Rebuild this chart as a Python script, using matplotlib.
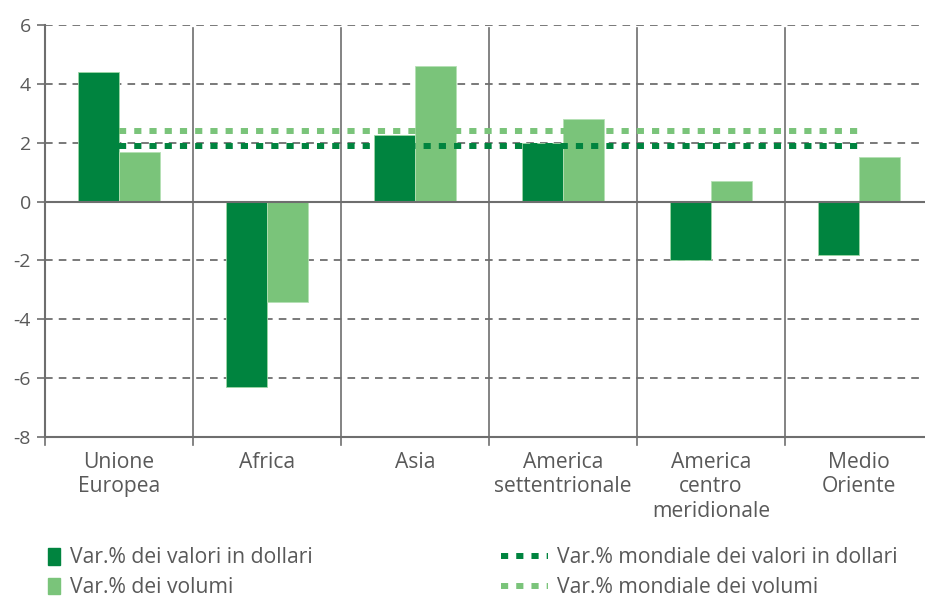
import numpy as np
import matplotlib.pyplot as plt
from matplotlib.patches import Patch
from matplotlib.lines import Line2D

plt.rcParams['font.family'] = ['Open Sans', 'DejaVu Sans']

categorie = ['Unione\nEuropea', 'Africa', 'Asia', 'America\nsettentrionale',
             'America\ncentro\nmeridionale', 'Medio\nOriente']
valori_dollari = [4.4, -6.3, 2.25, 2.0, -2.0, -1.8]
volumi = [1.7, -3.4, 4.6, 2.8, 0.7, 1.5]
mondiale_dollari = 1.9
mondiale_volumi = 2.4

verde_scuro = '#00843F'
verde_chiaro = '#7AC47A'
grigio = '#595959'
asse = '#6E6E6E'

fig = plt.figure(figsize=(9.25, 6), dpi=100)
ax = fig.add_axes([45 / 925, 1 - 437 / 600, 888 / 925, 412 / 600])

x = np.arange(len(categorie))
w = 0.28
ax.bar(x - w / 2, valori_dollari, w, color=verde_scuro, edgecolor='#9ED6A6', linewidth=0.6, zorder=3)
ax.bar(x + w / 2, volumi, w, color=verde_chiaro, edgecolor='#B4E0B4', linewidth=0.6, zorder=3)

dots = (0, (1.2, 1.35))
ax.plot([x[0], x[-1]], [mondiale_volumi] * 2, color=verde_chiaro, lw=4.3,
        linestyle=dots, dash_capstyle='butt', zorder=4)
ax.plot([x[0], x[-1]], [mondiale_dollari] * 2, color=verde_scuro, lw=4.3,
        linestyle=dots, dash_capstyle='butt', zorder=4)

ax.set_xlim(-0.5, len(categorie) - 0.5)
ax.set_ylim(-8, 6)
ax.set_yticks(np.arange(-8, 7, 2))
ax.set_yticklabels([str(v) for v in range(-8, 7, 2)])

for y in [-6, -4, -2, 2, 4, 6]:
    ax.axhline(y, color='#555555', lw=1.1, linestyle=(0, (5, 4)), zorder=1)
ax.axhline(0, color=asse, lw=1.5, zorder=5)

# separatori tra categorie
for b in np.arange(0.5, len(categorie) - 0.5, 1):
    ax.plot([b, b], [-8.27, 5.9], color=asse, lw=1.2, clip_on=False, zorder=2)
ax.plot([-0.5, -0.5], [-8.27, -8], color=asse, lw=1.2, clip_on=False)

for s in ['top', 'right']:
    ax.spines[s].set_visible(False)
for s in ['left', 'bottom']:
    ax.spines[s].set_color(asse)
    ax.spines[s].set_linewidth(1.5)

ax.set_xticks(x)
ax.set_xticklabels(categorie, fontsize=15.2, color=grigio, linespacing=1.2)
ax.tick_params(axis='x', length=0, pad=11)
ax.tick_params(axis='y', length=6, color=asse, width=1.2, labelsize=14,
               labelcolor=grigio, pad=4)

kw = dict(frameon=False, fontsize=15.2, labelcolor=grigio, labelspacing=0.42,
          handletextpad=0.45, borderaxespad=0)
fig.legend(handles=[Patch(color=verde_scuro, label='Var.% dei valori in dollari'),
                    Patch(color=verde_chiaro, label='Var.% dei volumi')],
           loc='upper left', bbox_to_anchor=(40 / 925, 1 - 539 / 600),
           handlelength=0.55, handleheight=0.85, **kw)
fig.legend(handles=[Line2D([], [], color=verde_scuro, lw=4.3, linestyle=dots,
                           label='Var.% mondiale dei valori in dollari'),
                    Line2D([], [], color=verde_chiaro, lw=4.3, linestyle=dots,
                           label='Var.% mondiale dei volumi')],
           loc='upper left', bbox_to_anchor=(493 / 925, 1 - 539 / 600),
           handlelength=2.2, **kw)

fig.savefig('out.png', dpi=100)
